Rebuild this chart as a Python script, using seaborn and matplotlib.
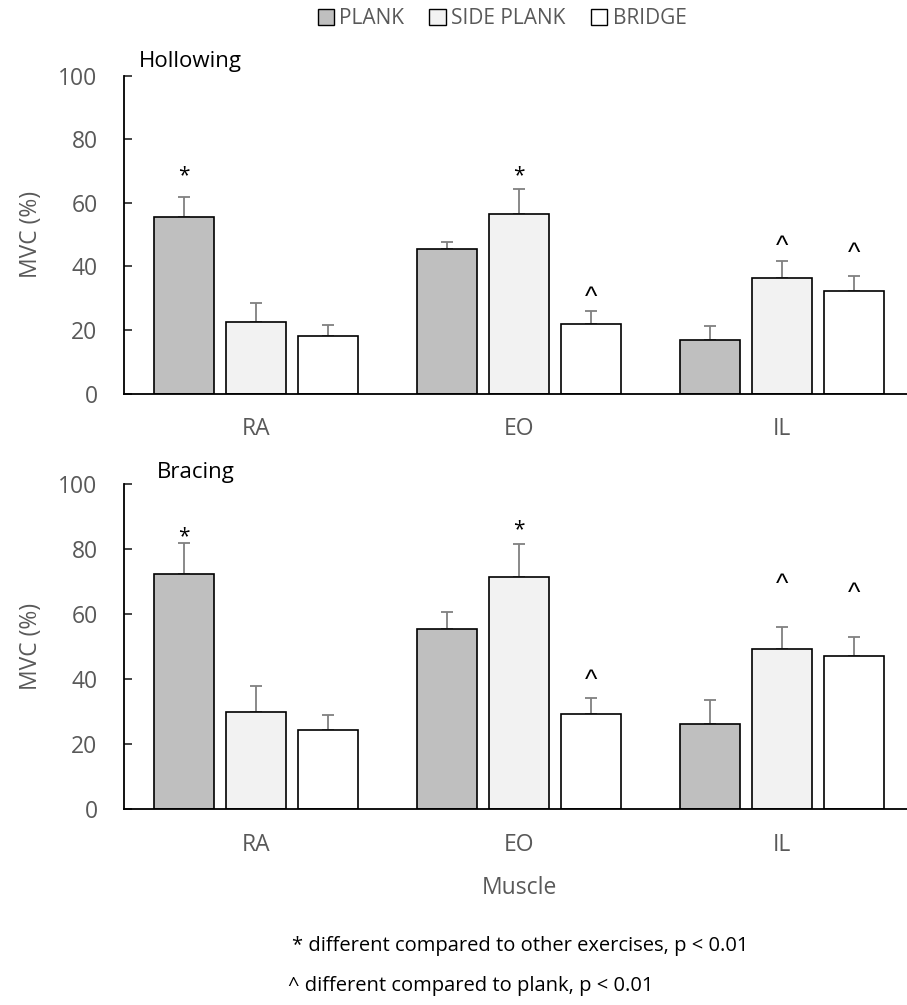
import numpy as np
import pandas as pd
import matplotlib
matplotlib.use("Agg")
import matplotlib.pyplot as plt
import seaborn as sns
from matplotlib.patches import Patch

# categories
muscles = ["RA", "EO", "IL"]
exercises = ["PLANK", "SIDE PLANK", "BRIDGE"]

# Hollowing: mean and SD (% MVC)
hollow_plank = [55.6, 45.5, 16.7]
hollow_side = [22.4, 56.6, 36.4]
hollow_bridge = [18.0, 21.8, 32.2]
hollow_plank_sd = [6.3, 2.2, 4.4]
hollow_side_sd = [6.1, 7.6, 5.4]
hollow_bridge_sd = [3.6, 4.0, 4.9]

# Bracing: mean and SD (% MVC)
brace_plank = [72.4, 55.6, 26.3]
brace_side = [30.0, 71.5, 49.2]
brace_bridge = [24.4, 29.4, 47.1]
brace_plank_sd = [9.4, 5.1, 7.3]
brace_side_sd = [8.0, 10.2, 7.0]
brace_bridge_sd = [4.7, 4.9, 6.0]

# significance marks: (exercise, muscle, symbol, height of symbol centre)
hollow_marks = [("PLANK", "RA", "*", 70.0), ("SIDE PLANK", "EO", "*", 70.0),
                ("BRIDGE", "EO", "^", 31.7), ("SIDE PLANK", "IL", "^", 47.7),
                ("BRIDGE", "IL", "^", 45.5)]
brace_marks = [("PLANK", "RA", "*", 85.5), ("SIDE PLANK", "EO", "*", 87.5),
               ("BRIDGE", "EO", "^", 41.3), ("SIDE PLANK", "IL", "^", 70.6),
               ("BRIDGE", "IL", "^", 67.8)]

colors = ["#bfbfbf", "#f2f2f2", "#ffffff"]
GRAY = "#595959"

sns.set_style("white")
plt.rcParams["font.family"] = ["Open Sans", "DejaVu Sans"]


def make_frame(means, sds):
    rows = []
    for ex, m, s in zip(exercises, means, sds):
        for mu, v, e in zip(muscles, m, s):
            rows.append({"muscle": mu, "exercise": ex, "mvc": v, "sd": e})
    return pd.DataFrame(rows)


def draw_panel(ax, df, marks, title, title_x, title_y):
    sns.barplot(data=df, x="muscle", y="mvc", hue="exercise", order=muscles,
                hue_order=exercises, palette=colors, edgecolor="black",
                linewidth=1.2, width=0.82, gap=0.165, errorbar=None,
                legend=False, ax=ax, zorder=2)
    for i, ex in enumerate(exercises):
        sub = df[df["exercise"] == ex].set_index("muscle").loc[muscles]
        bars = ax.containers[i]
        xs = [b.get_x() + b.get_width() / 2 for b in bars]
        hs = [b.get_height() for b in bars]
        ax.errorbar(xs, hs, yerr=[np.zeros(len(hs)), sub["sd"].values],
                    fmt="none", ecolor="#808080", elinewidth=1.3,
                    capsize=4, capthick=1.3, zorder=1)
    for ex, mu, sym, y in marks:
        bar = ax.containers[exercises.index(ex)][muscles.index(mu)]
        if sym == "^":
            fam, off, fs = ["Liberation Sans"], -9.0, 19
        else:
            fam, off, fs = ["Open Sans"], -7.5, 15
        ax.annotate(sym, (bar.get_x() + bar.get_width() / 2, y),
                    xytext=(0, off), textcoords="offset points",
                    ha="center", va="baseline", fontsize=fs, color="black",
                    family=fam)
    ax.set_ylim(0, 100)
    ax.set_xlim(-0.5, 2.5)
    ax.set_yticks([0, 20, 40, 60, 80, 100])
    ax.tick_params(axis="y", direction="in", length=6, width=1.2,
                   labelsize=16.5, labelcolor=GRAY, pad=19, left=True)
    ax.tick_params(axis="x", length=0, labelsize=16.5, labelcolor=GRAY, pad=17)
    for sp in ["top", "right"]:
        ax.spines[sp].set_visible(False)
    for sp in ["left", "bottom"]:
        ax.spines[sp].set_color("black")
        ax.spines[sp].set_linewidth(1.3)
    ax.set_ylabel("MVC (%)", fontsize=16.5, color=GRAY, labelpad=11)
    ax.set_xlabel("")
    ax.text(title_x, title_y, title, transform=ax.transAxes, fontsize=16,
            color="black", ha="left", va="baseline")


fig = plt.figure(figsize=(9.07, 10.05), dpi=100)
W, H = 907, 1005
ax1 = fig.add_axes([124 / W, (H - 393.5) / H, 790 / W, 318 / H])
ax2 = fig.add_axes([124 / W, (H - 809.3) / H, 790 / W, 325 / H])

draw_panel(ax1, make_frame([hollow_plank, hollow_side, hollow_bridge],
                           [hollow_plank_sd, hollow_side_sd, hollow_bridge_sd]),
           hollow_marks, "Hollowing", 0.019, 1.028)
draw_panel(ax2, make_frame([brace_plank, brace_side, brace_bridge],
                           [brace_plank_sd, brace_side_sd, brace_bridge_sd]),
           brace_marks, "Bracing", 0.042, 1.019)
ax2.set_xlabel("Muscle", fontsize=16.5, color=GRAY, labelpad=14)

handles = [Patch(facecolor=c, edgecolor="black", linewidth=1.0) for c in colors]
fig.legend(handles, exercises, loc="center", bbox_to_anchor=(502 / W, 1 - 19 / H),
           ncol=3, frameon=False, fontsize=15, labelcolor=GRAY,
           handlelength=0.8, handleheight=0.8, handletextpad=0.25,
           columnspacing=1.2)

fig.text(292 / W, 1 - 946 / H, "* different compared to other exercises, p < 0.01",
         fontsize=14.5, color="black", ha="left", va="center")
fig.text(288 / W, 1 - 986 / H, "^ different compared to plank, p < 0.01",
         fontsize=14.5, color="black", ha="left", va="center")

fig.savefig("out.png", dpi=100)
